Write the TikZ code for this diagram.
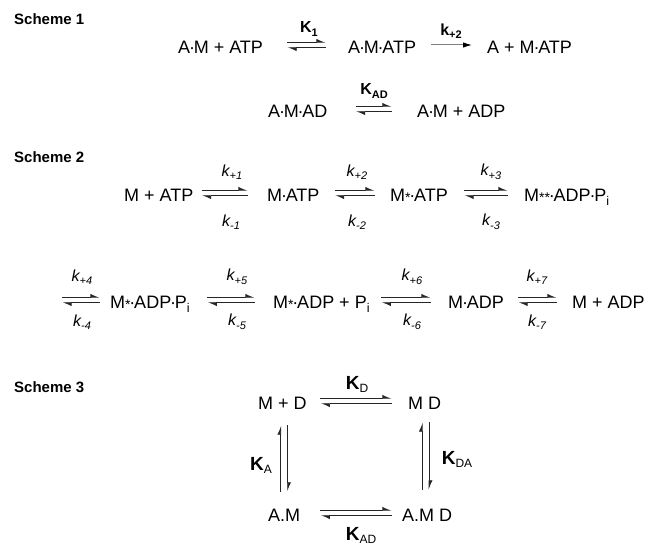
\documentclass[tikz,border=0pt]{standalone}
\usepackage{fontspec}
\setmainfont{Liberation Sans}
\usetikzlibrary{arrows.meta}

\tikzstyle{species}=[inner sep=0pt, anchor=base west, text height=18pt, text depth=0pt, font=\fontsize{18}{20}\selectfont]
\tikzstyle{scheme}=[inner sep=0pt, anchor=base west, font=\fontsize{15}{17}\selectfont\bfseries]
\tikzstyle{rate}=[inner sep=0pt, font=\fontsize{16}{18}\selectfont\itshape]
\tikzstyle{const}=[inner sep=0pt, font=\fontsize{16}{18}\selectfont\bfseries]
\tikzstyle{bigconst}=[inner sep=0pt, font=\fontsize{19}{21}\selectfont]
\tikzstyle{harp}=[line width=0.9pt, black!85, -{Latex[harpoon,length=8pt,width=7pt]}]
\tikzstyle{fwd}=[line width=1pt, gray, -{Latex[color=black,length=9pt,width=5.5pt]}]

\newcommand{\dt}{\kern-1.2pt·\kern-1.2pt}
\newcommand{\sast}{\raisebox{-0.5pt}{\fontsize{14}{14}\selectfont *}}
\newcommand{\sbs}[1]{\raisebox{-3.5pt}{\fontsize{11}{11}\selectfont #1}}
\newcommand{\Kc}[1]{\textbf{K}\raisebox{-3pt}{\fontsize{12}{12}\selectfont #1}}
\newcommand{\eqarr}[4]{%
  \draw[harp, shorten <=#3, shorten >=#4] ([yshift=2.75pt]#1.east) -- ([yshift=2.75pt]#2.west);
  \draw[harp, shorten <=#4, shorten >=#3] ([yshift=-2.75pt]#2.west) -- ([yshift=-2.75pt]#1.east);
}

\begin{document}
\begin{tikzpicture}[x=1pt,y=1pt]
    \useasboundingbox (0,0) rectangle (665,-545);

    % Scheme 1
    \node[scheme] (s1) at (14,-25) {Scheme 1};
    \node[species] (am) at (178,-54) {A\dt M + ATP};
    \node[species] (amatp) at (348,-54) {A\dt M\dt ATP};
    \node[species] (amt) at (487,-54) {A + M\dt ATP};
    \node[species] (amad) at (268,-118) {A\dt M\dt AD};
    \node[species] (amadp) at (417,-118) {A\dt M + ADP};
    \eqarr{am}{amatp}{24pt}{22pt}
    \draw[fwd, shorten <=15pt, shorten >=15pt] (amatp.east) -- (amt.west);
    \eqarr{amad}{amadp}{28pt}{25pt}
    \node[const] (k1) at (309,-29) {K\sbs{1}};
    \node[const] (kp2s) at (451,-31) {k\sbs{+2}};
    \node[const] (kad) at (374,-91) {K\sbs{AD}};

    % Scheme 2
    \node[scheme] (s2) at (14,-163) {Scheme 2};
    \node[species] (mat) at (124,-202) {M + ATP};
    \node[species] (matp) at (267,-202) {M\dt ATP};
    \node[species] (msatp) at (390,-202) {M\sast\dt ATP};
    \node[species] (mssadpp) at (524,-202) {M\sast\sast\dt ADP\dt P\textsubscript{i}};
    \eqarr{mat}{matp}{8pt}{19pt}
    \eqarr{matp}{msatp}{15pt}{15pt}
    \eqarr{msatp}{mssadpp}{16pt}{16pt}
    \node[rate] (kp1) at (232,-172) {k\sbs{+1}};
    \node[rate] (km1) at (231,-222) {k\sbs{-1}};
    \node[rate] (kp2) at (357,-172) {k\sbs{+2}};
    \node[rate] (km2) at (357,-222) {k\sbs{-2}};
    \node[rate] (kp3) at (491,-172) {k\sbs{+3}};
    \node[rate] (km3) at (491,-222) {k\sbs{-3}};

    \coordinate (cont) at (62,-300);
    \node[species] (msadpp) at (110,-309) {M\sast\dt ADP\dt P\textsubscript{i}};
    \node[species] (msadp) at (273,-309) {M\sast\dt ADP + P\textsubscript{i}};
    \node[species] (madp) at (448,-309) {M\dt ADP};
    \node[species] (mpadp) at (572,-309) {M + ADP};
    \draw[harp, shorten >=10pt] ([yshift=2.75pt]cont) -- ([yshift=2.75pt]msadpp.west);
    \draw[harp, shorten <=10pt] ([yshift=-2.75pt]msadpp.west) -- ([yshift=-2.75pt]cont);
    \eqarr{msadpp}{msadp}{17pt}{18pt}
    \eqarr{msadp}{madp}{11pt}{17pt}
    \eqarr{madp}{mpadp}{14pt}{15pt}
    \node[rate] (kp4) at (82,-277) {k\sbs{+4}};
    \node[rate] (km4) at (82,-322) {k\sbs{-4}};
    \node[rate] (kp5) at (237,-277) {k\sbs{+5}};
    \node[rate] (km5) at (237,-322) {k\sbs{-5}};
    \node[rate] (kp6) at (412,-277) {k\sbs{+6}};
    \node[rate] (km6) at (412,-322) {k\sbs{-6}};
    \node[rate] (kp7) at (537,-277) {k\sbs{+7}};
    \node[rate] (km7) at (537,-322) {k\sbs{-7}};

    % Scheme 3
    \node[scheme] (s3) at (14,-393) {Scheme 3};
    \node[species] (mpd) at (258,-410) {M + D};
    \node[species] (md) at (408,-410) {M D};
    \node[species] (am3) at (268,-522) {A.M};
    \node[species] (amd) at (402,-522) {A.M D};
    \eqarr{mpd}{md}{13.5pt}{16pt}
    \eqarr{am3}{amd}{20pt}{10pt}
    \draw[harp, shorten <=12pt, shorten >=15pt] ([xshift=-3.5pt]am3.north) -- ([xshift=-3.5pt]am3.north |- mpd.south);
    \draw[harp, shorten <=15pt, shorten >=12pt] ([xshift=3.5pt]am3.north |- mpd.south) -- ([xshift=3.5pt]am3.north);
    \draw[harp, shorten <=14pt, shorten >=12pt] ([xshift=-2.5pt]md.south |- amd.north) -- ([xshift=-2.5pt]md.south);
    \draw[harp, shorten <=12pt, shorten >=14pt] ([xshift=4.5pt]md.south) -- ([xshift=4.5pt]md.south |- amd.north);
    \node[bigconst] (kd) at (357,-384) {\Kc{D}};
    \node[bigconst] (ka) at (261,-465) {\Kc{A}};
    \node[bigconst] (kda) at (457,-459) {\Kc{DA}};
    \node[bigconst] (kad3) at (361,-535) {\Kc{AD}};

\end{tikzpicture}
\end{document}
